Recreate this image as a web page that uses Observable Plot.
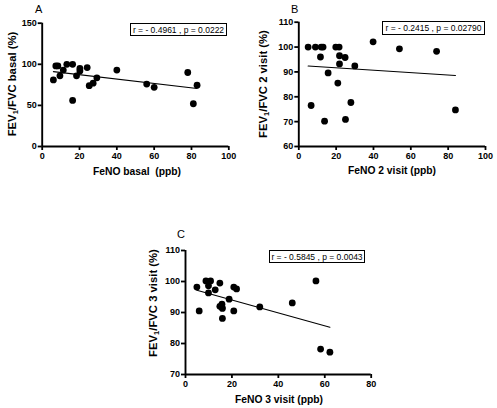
<!DOCTYPE html>
<html><head><meta charset="utf-8">
<script src="https://cdn.jsdelivr.net/npm/d3@7"></script>
<script src="https://cdn.jsdelivr.net/npm/@observablehq/plot@0.6"></script>
<style>
body{margin:0;background:#fff;}
#wrap{position:relative;width:497px;height:408px;background:#fff;font-family:"Liberation Sans",Arial,sans-serif;overflow:hidden;}
.svgbox{position:absolute;}
.lab{position:absolute;font-size:11px;color:#000;}
.box{position:absolute;border:1px solid #000;font-size:8.5px;display:flex;align-items:center;justify-content:center;white-space:nowrap;box-sizing:border-box;}
.xt{position:absolute;font-weight:bold;font-size:10.3px;transform:translate(-50%,-50%);white-space:pre;}
.yt{position:absolute;font-weight:bold;font-size:11.3px;transform:translate(-50%,-50%) rotate(-90deg);white-space:nowrap;}
.yt sub{font-size:7.5px;vertical-align:-2px;line-height:0;}
</style>
</head><body>
<div id="wrap"></div>
<script>
// Panel A: FeNO basal vs FEV1/FVC basal
const aFeno = [6, 7.3, 8.4, 9.5, 11.3, 13.2, 16.3, 16.3, 18.4, 20.2, 20.2, 24.1, 25.2, 27.3, 29.3, 40, 56, 60, 78, 81, 83];
const aFev  = [81, 98, 98, 86, 93, 100, 100, 56, 86, 95, 92, 96, 74, 77, 83.5, 93, 76, 72, 90, 52, 74.5];
// Panel B: FeNO 2 visit vs FEV1/FVC 2 visit
const bFeno = [5, 6.6, 8.9, 12, 13, 11.6, 13.8, 15.7, 19.8, 21.6, 20.9, 21.8, 21.8, 24.8, 25, 27.9, 30, 39.8, 53.9, 73.8, 83.9];
const bFev  = [100, 76.5, 100, 100, 100, 96, 70.2, 89.6, 100, 100, 85.5, 96.5, 93.2, 95.8, 70.9, 77.7, 92.4, 102.1, 99.3, 98.3, 74.7];
// Panel C: FeNO 3 visit vs FEV1/FVC 3 visit
const cFeno = [4.9, 5.9, 8.8, 10.8, 9.9, 9.9, 12.8, 14.8, 14.8, 15.7, 15.7, 15.9, 15.9, 18.8, 20.8, 22, 20.8, 32, 46, 56.2, 58.2, 62.2];
const cFev  = [98.2, 90.5, 100.2, 100.2, 98.6, 96.3, 97.3, 99.5, 92, 91.7, 92.7, 91.3, 88.1, 94.3, 98.2, 97.6, 90.5, 91.8, 93.1, 100.2, 78.2, 77.2];

const panels = [
  {id:"A", feno:aFeno, fev:aFev, xDom:[0,100], xTicks:[0,20,40,60,80,100], yDom:[0,150], yTicks:[0,50,100,150],
   L:0, T:0, W:245, H:162, ml:41.7, mr:16.7, mt:22.7, mb:16,
   letter:[35,3], box:[130,23,97,13], stat:"r = - 0.4961 , p = 0.0222",
   xt:["FeNO basal  (ppb)",137,171], yt:["basal",12,84]},
  {id:"B", feno:bFeno, fev:bFev, xDom:[0,100], xTicks:[0,20,40,60,80,100], yDom:[60,110], yTicks:[60,70,80,90,100,110],
   L:250, T:0, W:247, H:162, ml:48.3, mr:12, mt:21.7, mb:16,
   letter:[291,3], box:[382,21,103,14], stat:"r = - 0.2415 , p = 0.02790",
   xt:["FeNO 2 visit (ppb)",392,170], yt:["2 visit",263,84]},
  {id:"C", feno:cFeno, fev:cFev, xDom:[0,80], xTicks:[0,20,40,60,80], yDom:[70,110], yTicks:[70,80,90,100,110],
   L:120, T:240, W:270, H:150, ml:65, mr:19.3, mt:10, mb:16,
   letter:[177,228], box:[269,250,96,13], stat:"r = - 0.5845 , p = 0.0043",
   xt:["FeNO 3 visit (ppb)",279,399], yt:["3 visit",153,303]}
];

const wrap = document.getElementById("wrap");
for (const p of panels) {
  const data = p.feno.map((x,i)=>({x, y:p.fev[i]}));
  const chart = Plot.plot({
    width:p.W, height:p.H,
    marginLeft:p.ml, marginRight:p.mr, marginTop:p.mt, marginBottom:p.mb,
    style:{fontFamily:"'Liberation Sans', Arial, sans-serif", fontSize:"9px", fontWeight:"bold", color:"#000", background:"transparent"},
    x:{domain:p.xDom}, y:{domain:p.yDom},
    marks:[
      Plot.axisX({ticks:p.xTicks, tickSize:4, tickPadding:2, strokeWidth:1.8, label:null, tickFormat:d=>String(d)}),
      Plot.axisY({ticks:p.yTicks, tickSize:4, tickPadding:1.5, strokeWidth:1.8, label:null, tickFormat:d=>String(d)}),
      Plot.ruleY([p.yDom[0]], {strokeWidth:1.9}),
      Plot.ruleX([p.xDom[0]], {strokeWidth:1.9}),
      Plot.linearRegressionY(data, {x:"x", y:"y", ci:0, stroke:"#000", strokeWidth:1.1}),
      Plot.dot(data, {x:"x", y:"y", r:3.4, fill:"#000", stroke:"none"})
    ]
  });
  const box = document.createElement("div");
  box.className="svgbox"; box.style.left=p.L+"px"; box.style.top=p.T+"px";
  box.appendChild(chart); wrap.appendChild(box);

  const l = document.createElement("div"); l.className="lab"; l.textContent=p.id;
  l.style.left=p.letter[0]+"px"; l.style.top=p.letter[1]+"px"; wrap.appendChild(l);

  const s = document.createElement("div"); s.className="box"; s.textContent=p.stat;
  s.style.left=p.box[0]+"px"; s.style.top=p.box[1]+"px"; s.style.width=p.box[2]+"px"; s.style.height=p.box[3]+"px";
  wrap.appendChild(s);

  const xt = document.createElement("div"); xt.className="xt"; xt.textContent=p.xt[0];
  xt.style.left=p.xt[1]+"px"; xt.style.top=p.xt[2]+"px"; wrap.appendChild(xt);

  const yt = document.createElement("div"); yt.className="yt";
  yt.innerHTML = "FEV<sub>1</sub>/FVC " + p.yt[0] + " (%)";
  yt.style.left=p.yt[1]+"px"; yt.style.top=p.yt[2]+"px"; wrap.appendChild(yt);
}
</script>
</body></html>
